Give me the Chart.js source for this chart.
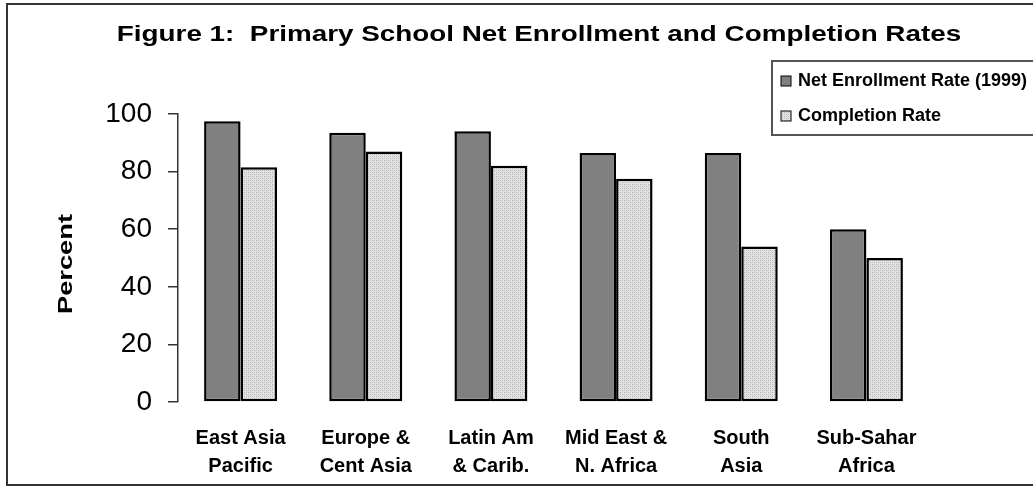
<!DOCTYPE html>
<html lang="en">
  <head>
    <meta charset="UTF-8" />
    <script src="https://cdn.jsdelivr.net/npm/chart.js"></script>
    <title>Figure 1</title>
    <style>
      html, body { margin: 0; padding: 0; background: #fff; }
      .wrap { width: 1033px; height: 487px; }
    </style>
  </head>
  <body>
    <div class="wrap">
      <canvas id="myChart" width="1033" height="487"></canvas>
    </div>
  </body>
</html>

<script>
  const regions = [
    ['East Asia', 'Pacific'],
    ['Europe &', 'Cent Asia'],
    ['Latin Am', '& Carib.'],
    ['Mid East &', 'N. Africa'],
    ['South', 'Asia'],
    ['Sub-Sahar', 'Africa'],
  ];
  const enrollment = [97.5, 93.5, 94, 86.5, 86.5, 60];
  const completion = [81.5, 87, 82, 77.5, 54, 50];
  const yTicks = [0, 20, 40, 60, 80, 100];

  const titleText = 'Figure 1:  Primary School Net Enrollment and Completion Rates';
  const yTitle = 'Percent';

  // dotted light grey fill for the completion bars
  function makeDots() {
    const c = document.createElement('canvas');
    c.width = 4;
    c.height = 4;
    const g = c.getContext('2d');
    g.fillStyle = '#e2e2e2';
    g.fillRect(0, 0, 4, 4);
    g.fillStyle = '#b0b0b0';
    g.fillRect(0, 0, 1, 1);
    g.fillRect(2, 2, 1, 1);
    g.fillStyle = '#c8c8c8';
    g.fillRect(2, 0, 1, 1);
    g.fillRect(0, 2, 1, 1);
    return g.createPattern(c, 'repeat');
  }

  // stretched text helper (the original figure uses wide lettering)
  function wideText(ctx, text, x, y, sx, align) {
    ctx.save();
    ctx.translate(x, y);
    ctx.scale(sx, 1);
    ctx.textAlign = align;
    ctx.fillText(text, 0, 0);
    ctx.restore();
  }

  const frame = {
    id: 'frame',
    beforeDraw(chart) {
      const ctx = chart.ctx;
      ctx.save();
      ctx.fillStyle = '#fff';
      ctx.fillRect(0, 0, chart.width, chart.height);
      ctx.strokeStyle = '#333';
      ctx.lineWidth = 2;
      ctx.strokeRect(7, 4, 1060, 481);
      ctx.restore();
    },
    afterDraw(chart) {
      const ctx = chart.ctx;
      ctx.save();
      ctx.fillStyle = '#000';
      ctx.textBaseline = 'middle';

      // title
      ctx.font = 'bold 22px "Liberation Sans", Arial, sans-serif';
      wideText(ctx, titleText, 539, 35, 1.265, 'center');

      // y axis title
      ctx.save();
      ctx.translate(66, 264);
      ctx.rotate(-Math.PI / 2);
      ctx.font = 'bold 21px "Liberation Sans", Arial, sans-serif';
      wideText(ctx, yTitle, 0, 0, 1.3, 'center');
      ctx.restore();

      // legend box
      const lx = 772;
      ctx.strokeStyle = '#555';
      ctx.lineWidth = 2;
      ctx.beginPath();
      ctx.moveTo(1040, 61);
      ctx.lineTo(lx, 61);
      ctx.lineTo(lx, 135);
      ctx.lineTo(1040, 135);
      ctx.stroke();

      ctx.font = 'bold 18px "Liberation Sans", Arial, sans-serif';
      chart.data.datasets.forEach((ds, i) => {
        const yy = 81 + i * 35;
        ctx.fillStyle = ds.backgroundColor;
        ctx.fillRect(lx + 9, yy - 5, 10, 10);
        ctx.strokeStyle = '#000';
        ctx.lineWidth = 1;
        ctx.strokeRect(lx + 9, yy - 5, 10, 10);
        ctx.fillStyle = '#000';
        ctx.textAlign = 'left';
        ctx.fillText(ds.label, lx + 26, yy);
      });
      ctx.restore();
    },
  };

  const ctx = document.getElementById('myChart').getContext('2d');
  new Chart(ctx, {
    type: 'bar',
    data: {
      labels: regions,
      datasets: [
        {
          label: 'Net Enrollment Rate (1999)',
          data: enrollment,
          backgroundColor: '#808080',
          borderColor: '#000',
          borderWidth: 2.5,
          borderSkipped: false,
          categoryPercentage: 0.583,
          barPercentage: 1,
        },
        {
          label: 'Completion Rate',
          data: completion,
          backgroundColor: makeDots(),
          borderColor: '#000',
          borderWidth: 2.5,
          borderSkipped: false,
          categoryPercentage: 0.583,
          barPercentage: 1,
        },
      ],
    },
    options: {
      responsive: false,
      animation: false,
      layout: {
        padding: { top: 114, right: 104, bottom: 0, left: 0 },
      },
      plugins: {
        legend: { display: false },
        title: { display: false },
        tooltip: { enabled: false },
      },
      scales: {
        x: {
          grid: { display: false, drawTicks: false },
          border: { display: false },
          ticks: {
            color: '#000',
            padding: 22,
            maxRotation: 0,
            autoSkip: false,
            font: { family: '"Liberation Sans", Arial, sans-serif', size: 20, weight: 'bold', lineHeight: 1.42 },
          },
          afterFit: (s) => {
            s.height = 85;
          },
        },
        y: {
          min: 0,
          max: 100,
          afterBuildTicks: (s) => {
            s.ticks = yTicks.map((v) => ({ value: v }));
          },
          grid: { drawOnChartArea: false, tickLength: 10, color: '#333', lineWidth: 1.5 },
          border: { color: '#333', width: 1.5 },
          ticks: {
            color: '#000',
            padding: 16,
            font: { family: '"Liberation Sans", Arial, sans-serif', size: 28 },
          },
          afterFit: (s) => {
            s.width = 178;
          },
        },
      },
    },
    plugins: [frame],
  });
</script>
